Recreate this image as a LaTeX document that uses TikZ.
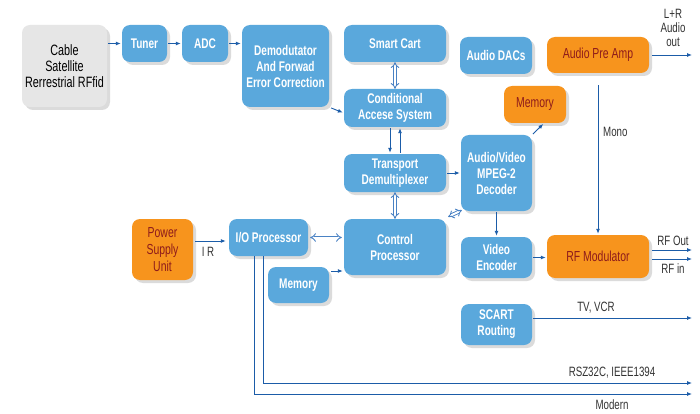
\documentclass[tikz,border=0pt]{standalone}
\usepackage{fontspec}
\setmainfont{Liberation Sans}[FakeStretch=0.72]
\usetikzlibrary{arrows.meta,shadows,calc}
\definecolor{boxblue}{HTML}{5AA8DC}
\definecolor{boxorange}{HTML}{F7941D}
\definecolor{boxgray}{HTML}{E6E6E6}
\definecolor{redtext}{HTML}{8E1B1B}
\definecolor{arrowblue}{HTML}{1B5CA8}
\definecolor{dblblue}{HTML}{4A82C4}
\definecolor{labelgray}{HTML}{333333}
\begin{document}
\begin{tikzpicture}[x=1pt,y=-1pt,
 box/.style={rounded corners=8pt, inner sep=1pt, align=center,
   drop shadow={shadow xshift=3pt,shadow yshift=-3pt,opacity=0.28}},
 bluebox/.style={box, fill=boxblue, text=white, font=\fontsize{14}{16}\selectfont\bfseries},
 orangebox/.style={box, fill=boxorange, text=redtext, font=\fontsize{14.5}{17}\selectfont},
 graybox/.style={box, fill=boxgray, text=black, font=\fontsize{15}{16}\selectfont},
 arr/.style={draw=arrowblue, line width=0.9pt, -{Latex[length=5pt,width=4pt]}},
 dbl/.style={draw=dblblue, double=white, double distance=2pt, line width=0.9pt, {Implies}-{Implies}},
 lbl/.style={text=labelgray, font=\fontsize{13.5}{14}\selectfont, inner sep=0pt, align=center}
]
\useasboundingbox[fill=white] (0,0) rectangle (700,414);

% boxes
\node[graybox, minimum width=85pt, minimum height=82pt] (cable) at (64.5,66) {Cable\\Satellite\\Rerrestrial RFfid};
\node[bluebox, minimum width=45pt, minimum height=37pt] (tuner) at (144.5,43.5) {Tuner};
\node[bluebox, minimum width=46pt, minimum height=37pt] (adc) at (205,43.5) {ADC};
\node[bluebox, minimum width=87pt, minimum height=82pt] (demod) at (285.5,66) {Demodutator\\And Forwad\\Error Correction};
\node[bluebox, minimum width=102pt, minimum height=37pt] (smart) at (395,43.5) {Smart Cart};
\node[bluebox, minimum width=102pt, minimum height=38pt] (cas) at (395,108) {Conditional\\Accese System};
\node[bluebox, minimum width=102pt, minimum height=38pt] (tdm) at (395,173) {Transport\\Demultiplexer};
\node[bluebox, minimum width=102pt, minimum height=56pt] (ctrl) at (395,247) {Control\\Processor};
\node[bluebox, minimum width=72pt, minimum height=37pt] (dacs) at (496,55.5) {Audio DACs};
\node[orangebox, minimum width=102pt, minimum height=36pt] (preamp) at (598,55) {Audio Pre Amp};
\node[orangebox, minimum width=62pt, minimum height=37pt] (memb) at (535,104.5) {Memory};
\node[bluebox, minimum width=71pt, minimum height=76pt] (avdec) at (496.5,173) {Audio/Video\\MPEG-2\\Decoder};
\node[bluebox, minimum width=71pt, minimum height=41pt] (venc) at (496.5,257.5) {Video\\Encoder};
\node[orangebox, minimum width=102pt, minimum height=43pt] (rfmod) at (598,256.5) {RF Modulator};
\node[bluebox, minimum width=71pt, minimum height=41pt] (scart) at (496.5,324.5) {SCART\\Routing};
\node[orangebox, minimum width=61pt, minimum height=61pt] (psu) at (162.5,249.5) {Power\\Supply\\Unit};
\node[bluebox, minimum width=79pt, minimum height=37pt] (io) at (268.5,237.5) {I/O Processor};
\node[bluebox, minimum width=61pt, minimum height=36pt] (mema) at (298.5,285) {Memory};

% free ends
\coordinate (lrout) at (692,55);
\coordinate (rfout) at (692,250);
\coordinate (rfin) at (692,259);
\coordinate (tvout) at (692,318);
\coordinate (rsout) at (692,383);
\coordinate (moout) at (692,394);

% simple arrows
\draw[arr, shorten <=1pt, shorten >=1pt] (cable.east |- tuner.west) -- (tuner.west);
\draw[arr, shorten <=1pt, shorten >=1pt] (tuner.east) -- (adc.west);
\draw[arr, shorten <=1pt, shorten >=1pt] (adc.east) -- (demod.west |- adc.east);
\draw[arr, shorten <=2pt, shorten >=1pt] (demod.south east) -- ([yshift=-5pt]cas.west);
\draw[dbl] (smart.south) -- (cas.north);
\draw[arr, shorten <=1pt, shorten >=1pt] ([xshift=-5pt]cas.south) -- ([xshift=-5pt]tdm.north);
\draw[arr, shorten <=1pt, shorten >=1pt] ([xshift=5pt]tdm.north) -- ([xshift=5pt]cas.south);
\draw[dbl] (tdm.south) -- (ctrl.north);
\draw[arr, shorten <=1pt, shorten >=1pt] (tdm.east) -- (avdec.west |- tdm.east);
\coordinate (cne) at ([xshift=2pt,yshift=2pt]ctrl.north east);
\coordinate (asw) at ([xshift=1pt,yshift=1pt]avdec.south west);
\draw[dbl] (cne) -- (asw);
\draw[arr, shorten <=1pt, shorten >=1pt] (avdec.north east) -- ([xshift=9pt]memb.south);
\draw[arr, shorten <=1pt, shorten >=1pt] (avdec.south) -- (venc.north);
\draw[arr, shorten <=1pt, shorten >=1pt] (venc.east) -- (rfmod.west |- venc.east);
\draw[arr, shorten >=1pt] ([yshift=-12pt]preamp.south) -- (rfmod.north);
\node[lbl, anchor=west] (mono) at (603,132) {Mono};

\draw[arr, shorten <=3pt] (preamp.east |- lrout) -- (lrout);
\node[lbl, font=\fontsize{13.5}{14}\selectfont] (lrlbl) at (673,28) {L+R\\Audio\\out};

\draw[arr, shorten <=3pt] (rfmod.east |- rfout) -- (rfout);
\draw[arr, shorten <=3pt] (rfmod.east |- rfin) -- (rfin);
\node[lbl] (rfoutl) at (673,241) {RF Out};
\node[lbl] (rfinl) at (673,269) {RF in};

\draw[arr, shorten <=1pt] (scart.east |- tvout) -- (tvout);
\node[lbl] (tvl) at (596,308) {TV, VCR};

\coordinate (ioin) at ([yshift=-3.5pt]io.west);
\draw[arr, shorten <=2pt, shorten >=3pt] (psu.east |- ioin) -- (ioin);
\node[lbl] (irl) at (208,252) {I R};

\coordinate (ioe) at ([xshift=2pt]io.east);
\coordinate (ctw) at ([xshift=-2pt]ctrl.west |- io.east);
\draw[dbl] (ioe) -- (ctw);
\coordinate (m1a) at ([yshift=14pt]mema.east);
\draw[arr, shorten <=2pt, shorten >=1pt] (m1a) -- (m1a -| ctrl.west);

\draw[arr] ([xshift=-5.5pt]io.south) |- (rsout);
\draw[arr] ([xshift=-14.5pt]io.south) |- (moout);
\node[lbl] (rsl) at (612,373) {RSZ32C, IEEE1394};
\node[lbl] (mol) at (612,405) {Modern};
\end{tikzpicture}
\end{document}
